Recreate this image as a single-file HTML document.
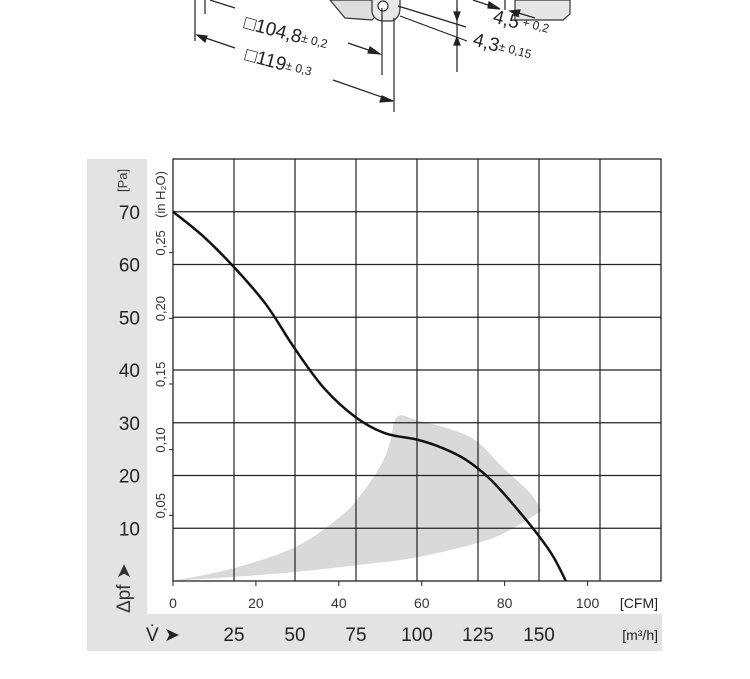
<!DOCTYPE html>
<html><head><meta charset="utf-8"><style>
body{margin:0;background:#fff;}
svg{display:block;font-family:"Liberation Sans",sans-serif;}
</style></head><body>
<svg id="chart" width="750" height="679" viewBox="0 0 750 679" xmlns="http://www.w3.org/2000/svg">
<g id="drawing" stroke="#222" fill="none" stroke-width="1.2">
  <path d="M330 0 L345 18 L372 20 L392 0 Z" fill="#ddd" stroke="#333"/>
  <path d="M372 0 L372 12 Q374 21 384 21 L392 21 Q400 18 400 8 L400 0" fill="#e8e8e8" stroke="#333"/>
  <circle cx="383" cy="6" r="5" fill="#fff" stroke="#333"/>
  <path d="M515 0 L570 0 L570 14 L563 20 L515 20 Z" fill="#e6e6e6" stroke="#333"/>
  <line x1="195" y1="0" x2="195" y2="41"/>
  <line x1="205" y1="0" x2="205" y2="14"/>
  <line x1="382" y1="8" x2="382" y2="75"/>
  <line x1="394" y1="18" x2="394" y2="112"/>
  <line x1="457" y1="0" x2="457" y2="72"/>
  <line x1="505" y1="0" x2="505" y2="10"/>
  <line x1="210" y1="0" x2="235" y2="8"/>
  <line x1="348" y1="43" x2="380" y2="54"/>
  <path d="M380 54 L370 47 L368 53 Z" fill="#222"/>
  <line x1="197" y1="35" x2="235" y2="48"/>
  <path d="M197 35 L207 36 L205 42 Z" fill="#222"/>
  <line x1="333" y1="80" x2="393" y2="101"/>
  <path d="M393 101 L382 96 L380 102 Z" fill="#222"/>
  <line x1="398" y1="6" x2="466" y2="27"/>
  <line x1="400" y1="16" x2="467" y2="41"/>
  <line x1="457" y1="8" x2="457" y2="20"/>
  <path d="M457 20 L454 12 L460 12 Z M457 37 L454 45 L460 45 Z" fill="#222"/>
  <line x1="473" y1="0" x2="494" y2="7"/>
  <path d="M500 9 L489 2 L488 8 Z" fill="#222"/>
  <line x1="515" y1="12" x2="535" y2="18"/>
  <path d="M510 11 L520 10 L518 16 Z" fill="#222"/>
</g>
<g fill="#222" stroke="none">
  <text transform="translate(243,28) rotate(15)" font-size="19">□104,8<tspan font-size="12" dy="-2">± 0,2</tspan></text>
  <text transform="translate(244,60) rotate(15)" font-size="19">□119<tspan font-size="12" dy="-2">± 0,3</tspan></text>
  <text transform="translate(492,22) rotate(15)" font-size="19">4,5<tspan font-size="12" dy="-4"> + 0,2</tspan></text>
  <text transform="translate(472,45) rotate(15)" font-size="19">4,3<tspan font-size="12" dy="-2">± 0,15</tspan></text>
</g>
<rect x="87" y="159" width="60" height="455" fill="#e3e3e3"/>
<rect x="87" y="614" width="575" height="37" fill="#e3e3e3"/>
<g id="plot"></g>
</svg>
<script>
const paTicks=[10,20,30,40,50,60,70];
const inTicks=[0.05,0.10,0.15,0.20,0.25];
const inLabels=["0,05","0,10","0,15","0,20","0,25"];
const cfmTicks=[0,20,40,60,80,100];
const m3Ticks=[25,50,75,100,125,150];
const gridQ=[25,50,75,100,125,150,175];
const curveQ=[0,12,25,38,50,62,75,87,100,110,120,130,140,150,156,161];
const curvePa=[70,65.5,59.5,52.5,44,36.5,31,28,26.8,25.3,23,19.3,14.2,8.5,4.5,0];
const upperQ=[0,25.4,50,67,75.4,84.8,88.9,91.8,100,121.7,135,146.3,151];
const upperPa=[0,2.5,6.4,11.6,15.4,21.6,26.2,31.1,30.5,27.3,21.6,16.7,13.3];
const lowerQ=[144,129,100,75.4,50,25.4,0];
const lowerPa=[11.2,7.8,4.5,3,1.7,0.8,0];

const X0=173,X1=661,Y0=581,Y1=159;
const xq=q=>X0+q*(X1-X0)/200;
const yp=p=>Y0-p*(Y0-Y1)/80;
const NS="http://www.w3.org/2000/svg";
const plot=document.getElementById('plot');
function mk(tag,attrs,txt){const e=document.createElementNS(NS,tag);for(const k in attrs)e.setAttribute(k,attrs[k]);if(txt!==undefined)e.textContent=txt;plot.appendChild(e);return e;}
function smooth(pts,start){let cd=start?"M"+pts[0][0]+" "+pts[0][1]:" L"+pts[0][0]+" "+pts[0][1];
for(let i=0;i<pts.length-1;i++){const p0=pts[Math.max(0,i-1)],p1=pts[i],p2=pts[i+1],p3=pts[Math.min(pts.length-1,i+2)];
cd+=` C${p1[0]+(p2[0]-p0[0])/6} ${p1[1]+(p2[1]-p0[1])/6} ${p2[0]-(p3[0]-p1[0])/6} ${p2[1]-(p3[1]-p1[1])/6} ${p2[0]} ${p2[1]}`;}
return cd;}

// grey operating region
const up=upperQ.map((q,i)=>[xq(q),yp(upperPa[i])]);
const lo=lowerQ.map((q,i)=>[xq(q),yp(lowerPa[i])]);
let reg=mk('path',{d:smooth(up,true)+smooth(lo,false)+"Z",fill:"#d9d9d9",stroke:"none"});



// grid
gridQ.forEach(q=>{let l=mk('line',{x1:xq(q),x2:xq(q),y1:Y1,y2:Y0,stroke:"#222","stroke-width":1.2});

});
paTicks.forEach(p=>{let l=mk('line',{x1:X0,x2:X1,y1:yp(p),y2:yp(p),stroke:"#222","stroke-width":1.2});

});
let fr=mk('rect',{x:X0,y:Y1,width:X1-X0,height:Y0-Y1,fill:"none",stroke:"#222","stroke-width":1.3});



paTicks.forEach(p=>{let t=mk('text',{x:140,y:yp(p)+7,"text-anchor":"end","font-size":19,fill:"#222"},String(p));

});
inTicks.forEach((v,i)=>{const y=yp(v*249);
let l=mk('line',{x1:X0-4,x2:X0,y1:y,y2:y,stroke:"#222"});


let t=mk('text',{transform:`translate(165,${y+3}) rotate(-90)`,"font-size":13,fill:"#333"},inLabels[i]);

});
let u1=mk('text',{transform:"translate(127,192) rotate(-90)","font-size":13,fill:"#333"},"[Pa]");


let u2=mk('text',{transform:"translate(165,218) rotate(-90)","font-size":13,fill:"#333"},"(in H₂O)");


let yt=mk('text',{transform:"translate(130,613) rotate(-90)","font-size":19,fill:"#333"},"Δpf ➤");



cfmTicks.forEach(c=>{const x=xq(c*1.699);
let l=mk('line',{x1:x,x2:x,y1:Y0,y2:Y0+5,stroke:"#222"});


let t=mk('text',{x:x,y:608,"text-anchor":"middle","font-size":14,fill:"#333"},String(c));

});
let uc=mk('text',{x:658,y:608,"text-anchor":"end","font-size":14,fill:"#222"},"[CFM]");


m3Ticks.forEach(m=>{let t=mk('text',{x:xq(m),y:641,"text-anchor":"middle","font-size":19,fill:"#222"},String(m));

});
let um=mk('text',{x:658,y:640,"text-anchor":"end","font-size":14,fill:"#222"},"[m³/h]");


let xt=mk('text',{x:146,y:641,"font-size":19,fill:"#222"},"V̇ ➤");



const pts=curveQ.map((q,i)=>[xq(q),yp(curvePa[i])]);
let cv=mk('path',{d:smooth(pts,true),fill:"none",stroke:"#111","stroke-width":2.5});


</script>
</body></html>
